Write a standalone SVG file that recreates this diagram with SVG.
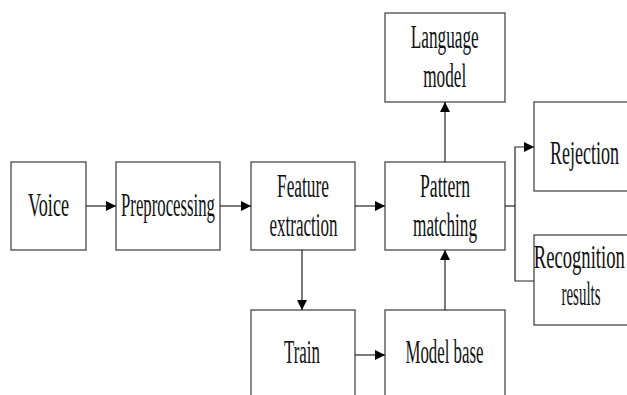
<svg xmlns="http://www.w3.org/2000/svg" width="627" height="395" viewBox="0 0 627 395">
<style>
.box{fill:#fff;stroke:#3a3a3a;stroke-width:1.2}
.lbl{font-family:"Liberation Serif","Times New Roman",serif;font-size:33px;fill:#111;text-anchor:middle}
.con{fill:none;stroke:#222;stroke-width:1.2}
</style>
<defs>
<marker id="ah" markerUnits="userSpaceOnUse" markerWidth="10" markerHeight="10" viewBox="0 0 10 10" refX="10" refY="5" orient="auto">
<path d="M0,0 L10,5 L0,10 Z" fill="#000"/>
</marker>
</defs>
<rect width="627" height="395" fill="#fff"/>
<g id="voice"><rect class="box" x="11" y="162" width="75" height="88"/><text class="lbl" x="48.5" y="216" textLength="41" lengthAdjust="spacingAndGlyphs">Voice</text></g>
<g id="preprocessing"><rect class="box" x="116" y="162" width="104" height="88"/><text class="lbl" x="168" y="216" textLength="94" lengthAdjust="spacingAndGlyphs">Preprocessing</text></g>
<g id="feature"><rect class="box" x="251" y="162" width="104" height="88"/><text class="lbl" x="303" y="197" textLength="52" lengthAdjust="spacingAndGlyphs">Feature</text><text class="lbl" x="303.5" y="236" textLength="68" lengthAdjust="spacingAndGlyphs">extraction</text></g>
<g id="pattern"><rect class="box" x="385" y="162" width="120" height="88"/><text class="lbl" x="445" y="197" textLength="50" lengthAdjust="spacingAndGlyphs">Pattern</text><text class="lbl" x="445" y="236" textLength="64" lengthAdjust="spacingAndGlyphs">matching</text></g>
<g id="language"><rect class="box" x="385" y="13" width="120" height="89"/><text class="lbl" x="444.7" y="47.5" textLength="68" lengthAdjust="spacingAndGlyphs">Language</text><text class="lbl" x="444.7" y="87" textLength="43" lengthAdjust="spacingAndGlyphs">model</text></g>
<g id="rejection"><rect class="box" x="534" y="102" width="100" height="89"/><text class="lbl" x="584.5" y="164" textLength="69" lengthAdjust="spacingAndGlyphs">Rejection</text></g>
<g id="recognition"><rect class="box" x="534" y="235" width="100" height="90"/><text class="lbl" x="579.3" y="268" textLength="91" lengthAdjust="spacingAndGlyphs">Recognition</text><text class="lbl" x="581" y="305" textLength="39" lengthAdjust="spacingAndGlyphs">results</text></g>
<g id="train"><rect class="box" x="251" y="310" width="104" height="100"/><text class="lbl" x="302" y="363" textLength="36" lengthAdjust="spacingAndGlyphs">Train</text></g>
<g id="modelbase"><rect class="box" x="385" y="310" width="120" height="100"/><text class="lbl" x="444.5" y="363" textLength="78" lengthAdjust="spacingAndGlyphs">Model base</text></g>
<g id="connectors">
<line class="con" x1="86" y1="206" x2="116" y2="206" marker-end="url(#ah)"/>
<line class="con" x1="220" y1="206" x2="251" y2="206" marker-end="url(#ah)"/>
<line class="con" x1="355" y1="206" x2="385" y2="206" marker-end="url(#ah)"/>
<line class="con" x1="445" y1="162" x2="445" y2="102" marker-end="url(#ah)"/>
<line class="con" x1="302" y1="250" x2="302" y2="310" marker-end="url(#ah)"/>
<line class="con" x1="355" y1="355" x2="385" y2="355" marker-end="url(#ah)"/>
<line class="con" x1="445" y1="310" x2="445" y2="250" marker-end="url(#ah)"/>
<polyline class="con" points="505,206 515,206"/>
<polyline class="con" points="534,281 515,281 515,147 534,147" marker-end="url(#ah)"/>
</g>
</svg>
